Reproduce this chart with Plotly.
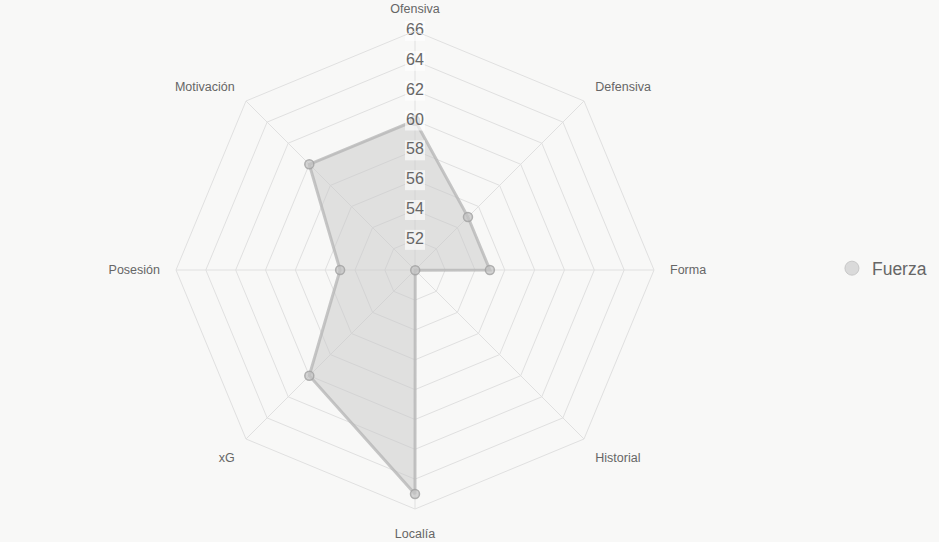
import plotly.graph_objects as go

categories = ["Ofensiva", "Defensiva", "Forma", "Historial", "Localía", "xG", "Posesión", "Motivación"]
fuerza = [60, 55, 55, 50, 65, 60, 55, 60]
tick_values = [52, 54, 56, 58, 60, 62, 64, 66]
series_name = "Fuerza"

BG = "#f8f8f7"
FONT = "Liberation Sans, Arial, Helvetica, sans-serif"

fig = go.Figure()

# main series
fig.add_trace(go.Scatterpolar(
    r=fuerza + [fuerza[0]],
    theta=categories + [categories[0]],
    mode="lines+markers",
    fill="toself",
    fillcolor="rgba(200,200,200,0.5)",
    line=dict(color="rgba(180,180,180,0.75)", width=3),
    marker=dict(size=9, color="rgba(195,195,195,0.7)",
                line=dict(color="rgba(160,160,160,0.8)", width=1.5)),
    showlegend=False,
    cliponaxis=False,
    hoverinfo="r+theta",
    name=series_name,
))

# radial tick labels with backdrop (drawn on the Ofensiva spoke)
fig.add_trace(go.Scatterpolar(
    r=tick_values,
    theta=[categories[0]] * len(tick_values),
    mode="markers+text",
    text=[str(v) for v in tick_values],
    textposition="middle center",
    textfont=dict(size=16, color="#666666", family=FONT),
    marker=dict(symbol="square", size=20, color="rgba(255,255,255,0.6)", line=dict(width=0)),
    showlegend=False,
    cliponaxis=False,
    hoverinfo="skip",
))

# legend entry
fig.add_trace(go.Scatterpolar(
    r=[None], theta=[categories[0]],
    mode="markers",
    marker=dict(size=14, color="rgba(218,218,218,1)", line=dict(color="rgba(200,200,200,1)", width=1)),
    name=series_name,
    showlegend=True,
))

fig.update_layout(
    width=939, height=542,
    margin=dict(l=0, r=0, t=0, b=0),
    paper_bgcolor=BG,
    plot_bgcolor=BG,
    font=dict(family=FONT, color="#666666"),
    polar=dict(
        domain=dict(x=[176/939, 654/939], y=[33/542, 511/542]),
        bgcolor=BG,
        gridshape="linear",
        radialaxis=dict(
            range=[49.98, 66],
            tickvals=tick_values,
            showticklabels=False,
            ticks="",
            showline=False,
            gridcolor="#e0e0e0",
            gridwidth=1,
            angle=90,
        ),
        angularaxis=dict(
            rotation=90,
            direction="clockwise",
            categoryorder="array",
            categoryarray=categories,
            showline=True,
            linecolor="#e0e0e0",
            linewidth=1,
            gridcolor="#e0e0e0",
            ticks="outside",
            ticklen=13,
            tickcolor="rgba(0,0,0,0)",
            tickfont=dict(size=12.5, color="#666666", family=FONT),
        ),
    ),
    legend=dict(
        x=0.886, y=0.505, xanchor="left", yanchor="middle",
        font=dict(size=17.5, color="#666666", family=FONT),
        bgcolor="rgba(0,0,0,0)",
        itemsizing="trace",
    ),
)

fig.write_html("out.html")
